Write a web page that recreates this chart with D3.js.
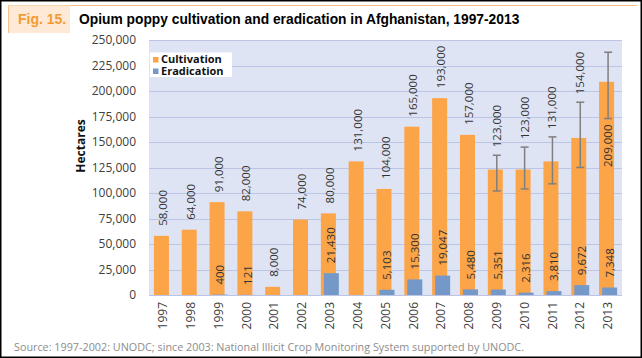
<!DOCTYPE html>
<html>
<head>
<meta charset="utf-8">
<script src="https://cdn.jsdelivr.net/npm/d3@7"></script>
<style>
  html, body { margin: 0; padding: 0; background: #fff; }
  svg { display: block; }
</style>
</head>
<body>
<svg id="chart" width="642" height="358"></svg>
<script>
const years = ["1997","1998","1999","2000","2001","2002","2003","2004","2005","2006","2007","2008","2009","2010","2011","2012","2013"];
const cultivation = [58000,64000,91000,82000,8000,74000,80000,131000,104000,165000,193000,157000,123000,123000,131000,154000,209000];
const eradication = [null,null,400,121,null,null,21430,null,5103,15300,19047,5480,5351,2316,3810,9672,7348];
const rangeLow  = [null,null,null,null,null,null,null,null,null,null,null,null,102000,104000,109000,125000,173000];
const rangeHigh = [null,null,null,null,null,null,null,null,null,null,null,null,137000,145000,155000,189000,238000];
const yTicks = [0,25000,50000,75000,100000,125000,150000,175000,200000,225000,250000];
const seriesNames = ["Cultivation","Eradication"];
const seriesColors = ["#fba448","#7499c8"];

const svg = d3.select("#chart");
const font = "'Open Sans', 'Noto Sans', sans-serif";

// frame
svg.append("rect").attr("x",0.75).attr("y",0.75).attr("width",640.5).attr("height",356.5)
  .attr("fill","none").attr("stroke","#000").attr("stroke-width",1.5);
svg.append("line").attr("x1",8).attr("x2",637).attr("y1",5.5).attr("y2",5.5)
  .attr("stroke","#f9c08a").attr("stroke-width",1);
svg.append("rect").attr("x",8).attr("y",5.5).attr("width",62).attr("height",27.5).attr("fill","#fde9d6");
svg.append("line").attr("x1",8.5).attr("x2",8.5).attr("y1",5.5).attr("y2",33)
  .attr("stroke","#f9c08a").attr("stroke-width",1);
svg.append("text").attr("x",18).attr("y",24).attr("font-family","'Liberation Sans', Arial, sans-serif")
  .attr("font-weight","bold").attr("font-size",14).attr("fill","#f59a32").text("Fig. 15.");
svg.append("text").attr("x",79).attr("y",24).attr("font-family","'Liberation Sans', Arial, sans-serif")
  .attr("font-weight","bold").attr("font-size",13.8).attr("fill","#000")
  .text("Opium poppy cultivation and eradication in Afghanistan, 1997-2013");

const m = {left:149, right:622, top:40, bottom:295};
const x = d3.scaleBand().domain(years).range([m.left, m.right]).padding(0);
const y = d3.scaleLinear().domain([0,250000]).range([m.bottom, m.top]);
const off = d3.scalePoint().domain(seriesNames).range([-1.5, 1.5]);
const barW = 15;
const cx = d => x(d) + x.bandwidth()/2;

// plot background
svg.append("rect").attr("x",m.left).attr("y",m.top).attr("width",m.right-m.left).attr("height",m.bottom-m.top)
  .attr("fill","#dfe4f4");
// gridlines
svg.append("g").selectAll("line").data(yTicks).join("line")
  .attr("x1",m.left).attr("x2",m.right)
  .attr("y1",d=>Math.round(y(d))+0.5).attr("y2",d=>Math.round(y(d))+0.5)
  .attr("stroke","#bcc5e6").attr("stroke-width",1);

// y axis
const yAxis = svg.append("g").attr("transform",`translate(${m.left-10},0)`)
  .call(d3.axisLeft(y).tickValues(yTicks).tickSize(0).tickFormat(d3.format(",")));
yAxis.select(".domain").remove();
yAxis.selectAll("text").attr("font-family",font).attr("font-size",12).attr("fill","#404040").attr("dx",0);

svg.append("text").attr("transform","translate(85,146) rotate(-90)")
  .attr("text-anchor","middle").attr("font-family",font).attr("font-weight","bold")
  .attr("font-size",12).attr("fill","#111").text("Hectares");

// x axis
const xAxis = svg.append("g").attr("transform",`translate(0,${m.bottom})`)
  .call(d3.axisBottom(x).tickSize(0));
xAxis.select(".domain").remove();
xAxis.selectAll("text").attr("font-family",font).attr("font-size",12).attr("fill","#404040")
  .attr("transform","rotate(-90)").attr("text-anchor","end")
  .attr("x",-7).attr("y",0).attr("dy","0.35em");

// bars
const cultData = years.map((yr,i)=>({yr, v:cultivation[i], lo:rangeLow[i], hi:rangeHigh[i]}));
const eradData = years.map((yr,i)=>({yr, v:eradication[i]})).filter(d=>d.v!==null);

svg.append("g").selectAll("rect").data(cultData).join("rect")
  .attr("x",d=>cx(d.yr)+off("Cultivation")-barW/2).attr("width",barW)
  .attr("y",d=>y(d.v)).attr("height",d=>y(0)-y(d.v)).attr("fill",seriesColors[0]);
svg.append("g").selectAll("rect").data(eradData).join("rect")
  .attr("x",d=>cx(d.yr)+off("Eradication")-barW/2).attr("width",barW)
  .attr("y",d=>y(d.v)).attr("height",d=>y(0)-y(d.v)).attr("fill",seriesColors[1]);

// error bars
const errData = cultData.filter(d=>d.lo!==null);
const eg = svg.append("g").attr("stroke","#7f7f7f").attr("stroke-width",1.5);
errData.forEach(d=>{
  const X = cx(d.yr);
  eg.append("line").attr("x1",X).attr("x2",X).attr("y1",y(d.lo)).attr("y2",y(d.hi));
  eg.append("line").attr("x1",X-4).attr("x2",X+4).attr("y1",y(d.lo)).attr("y2",y(d.lo));
  eg.append("line").attr("x1",X-4).attr("x2",X+4).attr("y1",y(d.hi)).attr("y2",y(d.hi));
});

// value labels
const fmt = d3.format(",");
const lblSize = 11.5;
cultData.forEach(d=>{
  const X = cx(d.yr);
  const top = d.hi!==null ? y(d.hi) - 8 : y(d.v) - 10;
  const t = svg.append("text").attr("font-family",font).attr("font-size",lblSize).attr("fill","#333")
    .attr("dy","0.35em").text(fmt(d.v));
  if (top - 42 < m.top) {
    t.attr("transform",`translate(${X},${y(d.lo)+6}) rotate(-90)`).attr("text-anchor","end");
  } else {
    t.attr("transform",`translate(${X},${top}) rotate(-90)`).attr("text-anchor","start");
  }
});
eradData.forEach(d=>{
  const X = cx(d.yr)+off("Eradication");
  svg.append("text").attr("font-family",font).attr("font-size",lblSize).attr("fill","#333")
    .attr("dy","0.35em").attr("text-anchor","start")
    .attr("transform",`translate(${X},${y(d.v)-10}) rotate(-90)`).text(fmt(d.v));
});

// legend
svg.append("rect").attr("x",150).attr("y",52.5).attr("width",82).attr("height",24.5).attr("fill","#fff");
const lg = svg.append("g");
seriesNames.forEach((n,i)=>{
  lg.append("rect").attr("x",153).attr("y",57+i*11.5).attr("width",5.5).attr("height",5.5).attr("fill",seriesColors[i]);
});
const lt = lg.append("text").attr("font-family",font).attr("font-weight","bold")
  .attr("font-size",11).attr("fill","#111");
seriesNames.forEach((n,i)=>{
  lt.append("tspan").attr("x",161).attr("y",63+i*11.5).text(n);
});

// source
svg.append("text").attr("x",14).attr("y",351).attr("font-family",font).attr("font-size",11)
  .attr("fill","#8c8c8c").attr("textLength",510).attr("lengthAdjust","spacingAndGlyphs")
  .text("Source: 1997-2002: UNODC; since 2003: National Illicit Crop Monitoring System supported by UNODC.");
</script>
</body>
</html>
